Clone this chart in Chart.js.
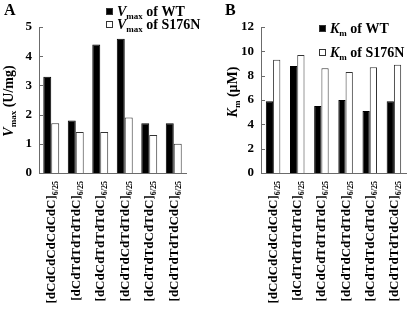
<!DOCTYPE html>
<html>
<head>
<meta charset="utf-8">
<script src="https://cdn.jsdelivr.net/npm/chart.js@4.4.1/dist/chart.umd.min.js"></script>
<style>
  body { margin: 0; background: #fff; }
  #wrap { position: relative; width: 409px; height: 310px; }
  canvas { position: absolute; top: 0; }
</style>
</head>
<body>
<div id="wrap">
  <canvas id="chartA" width="205" height="310" style="left:0;width:205px;height:310px"></canvas>
  <canvas id="chartB" width="204" height="310" style="left:205px;width:204px;height:310px"></canvas>
</div>
<script>
// Substrate sequences on the x axis (both panels share them).
const sequences = [
  '[dCdCdCdCdCdC]',
  '[dCdTdTdTdTdC]',
  '[dCdCdTdTdTdC]',
  '[dCdTdCdTdTdC]',
  '[dCdTdTdCdTdC]',
  '[dCdTdTdTdCdC]',
];
const seqSubscript = '6/25';

// Panel A: Vmax (U/mg)
const vmaxWT = [3.3, 1.8, 4.4, 4.6, 1.7, 1.7];
const vmaxS176N = [1.7, 1.4, 1.4, 1.9, 1.3, 1.0];
const vmaxTicks = [0, 1, 2, 3, 4, 5];

// Panel B: Km (µM)
const kmWT = [5.9, 8.8, 5.5, 6.0, 5.1, 5.9];
const kmS176N = [9.3, 9.7, 8.6, 8.3, 8.7, 8.9];
const kmTicks = [0, 2, 4, 6, 8, 10, 12];

const SERIF = '"Liberation Serif", "Times New Roman", serif';
const AXIS_COLOR = '#6b6b6b';

function font(size, italic) {
  return `${italic ? 'italic ' : ''}bold ${size}px ${SERIF}`;
}

// Draw a run of text pieces (symbol, subscript, plain) one after another.
function drawRuns(ctx, runs, x, y) {
  let cx = x;
  for (const r of runs) {
    ctx.font = r.font;
    ctx.fillText(r.text, cx, y + (r.dy || 0));
    cx += ctx.measureText(r.text).width;
  }
  return cx - x;
}

function measureRuns(ctx, runs) {
  let w = 0;
  for (const r of runs) {
    ctx.font = r.font;
    w += ctx.measureText(r.text).width;
  }
  return w;
}

function symbolRuns(sym, sub, rest, size) {
  return [
    { text: sym, font: font(size, true) },
    { text: sub, font: font(Math.round(size * 0.64)), dy: 3 },
    { text: rest, font: font(size) },
  ];
}

const panelDecor = {
  id: 'panelDecor',
  afterDraw(chart, args, opts) {
    const { ctx, chartArea } = chart;
    const xs = chart.scales.x;
    const ys = chart.scales.y;
    ctx.save();
    ctx.fillStyle = '#000';
    ctx.textBaseline = 'alphabetic';

    // inward tick marks
    ctx.strokeStyle = AXIS_COLOR;
    ctx.lineWidth = 1;
    ys.ticks.forEach((t) => {
      const py = Math.round(ys.getPixelForValue(t.value)) + 0.5;
      ctx.beginPath();
      ctx.moveTo(chartArea.left, py);
      ctx.lineTo(chartArea.left + 4, py);
      ctx.stroke();
    });

    // panel letter
    ctx.font = font(16);
    ctx.fillText(opts.letter, opts.letterX, opts.letterY);

    // rotated y title with subscript
    const titleRuns = symbolRuns(opts.sym, opts.sub, opts.unit, 14);
    const tw = measureRuns(ctx, titleRuns);
    ctx.save();
    ctx.translate(opts.titleX, opts.titleY);
    ctx.rotate(-Math.PI / 2);
    drawRuns(ctx, titleRuns, -tw / 2, 0);
    ctx.restore();

    // legend
    opts.legend.forEach((item, i) => {
      const ly = opts.legendY + i * opts.legendGap;
      ctx.fillStyle = item.filled ? '#000' : '#fff';
      ctx.fillRect(opts.legendX, ly - 8, 7, 7);
      ctx.strokeStyle = '#333';
      ctx.strokeRect(opts.legendX + 0.5, ly - 7.5, 6, 6);
      ctx.fillStyle = '#000';
      drawRuns(ctx, symbolRuns(opts.sym, opts.sub, item.rest, 14), opts.legendX + 11, ly);
    });

    // rotated category labels with subscript
    sequences.forEach((label, i) => {
      const cx = xs.getPixelForValue(i);
      const runs = [
        { text: label, font: font(13) },
        { text: seqSubscript, font: font(8), dy: 3 },
      ];
      const w = measureRuns(ctx, runs);
      ctx.save();
      ctx.translate(cx + 4, chartArea.bottom + 8);
      ctx.rotate(-Math.PI / 2);
      drawRuns(ctx, runs, -w, 0);
      ctx.restore();
    });
    ctx.restore();
  },
};

function buildPanel(canvasId, wt, mut, ticks, geo, decor) {
  const step = ticks[1] - ticks[0];
  return new Chart(document.getElementById(canvasId).getContext('2d'), {
    type: 'bar',
    data: {
      labels: sequences,
      datasets: [
        {
          label: 'WT',
          data: wt,
          backgroundColor: '#000',
          borderColor: '#000',
          borderWidth: 1,
          categoryPercentage: geo.catPct,
          barPercentage: 1,
        },
        {
          label: 'S176N',
          data: mut,
          backgroundColor: '#fff',
          borderColor: '#333',
          borderWidth: 1,
          categoryPercentage: geo.catPct,
          barPercentage: 1,
        },
      ],
    },
    options: {
      responsive: false,
      animation: false,
      layout: { padding: { left: 0, top: geo.top, right: geo.right, bottom: 0 } },
      scales: {
        x: {
          ticks: { display: false },
          grid: { display: false },
          border: { display: true, color: AXIS_COLOR, width: 1 },
          afterFit: (s) => { s.height = geo.xHeight; },
        },
        y: {
          min: ticks[0],
          max: ticks[ticks.length - 1],
          ticks: {
            stepSize: step,
            padding: 7,
            color: '#000',
            font: { family: SERIF, weight: 'bold', size: 13 },
          },
          grid: { display: false, drawTicks: false },
          border: { display: true, color: AXIS_COLOR, width: 1 },
          afterFit: (s) => { s.width = geo.yWidth; },
        },
      },
      plugins: {
        legend: { display: false },
        tooltip: { enabled: false },
        panelDecor: decor,
      },
    },
    plugins: [panelDecor],
  });
}

buildPanel('chartA', vmaxWT, vmaxS176N, vmaxTicks,
  { top: 27, right: 19, xHeight: 137, yWidth: 39, catPct: 0.65 },
  {
    letter: 'A', letterX: 4, letterY: 15,
    sym: 'V', sub: 'max', unit: ' (U/mg)', titleX: 13, titleY: 101,
    legendX: 106, legendY: 16, legendGap: 13,
    legend: [{ filled: true, rest: ' of WT' }, { filled: false, rest: ' of S176N' }],
  });

buildPanel('chartB', kmWT, kmS176N, kmTicks,
  { top: 27, right: 3, xHeight: 137, yWidth: 56, catPct: 0.6 },
  {
    letter: 'B', letterX: 20, letterY: 15,
    sym: 'K', sub: 'm', unit: ' (\u03bcM)', titleX: 32, titleY: 92,
    legendX: 114, legendY: 33, legendGap: 24,
    legend: [{ filled: true, rest: ' of WT' }, { filled: false, rest: ' of S176N' }],
  });
</script>
</body>
</html>
